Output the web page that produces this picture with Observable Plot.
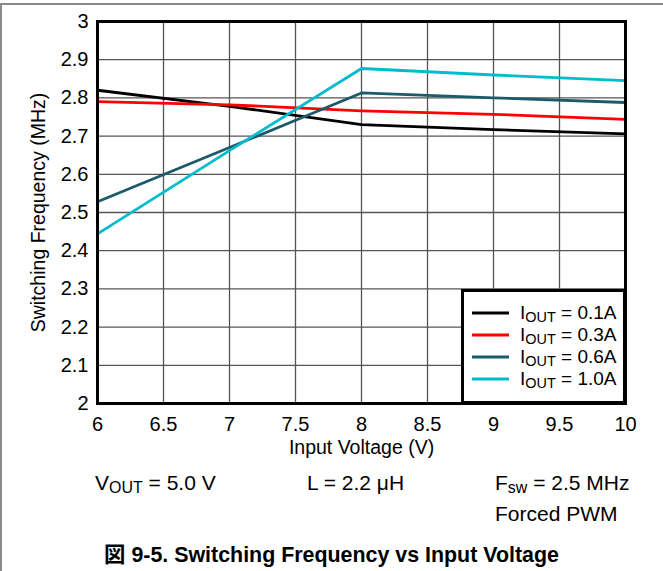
<!DOCTYPE html>
<html>
<head>
<meta charset="utf-8">
<script src="https://cdn.jsdelivr.net/npm/d3@7"></script>
<script src="https://cdn.jsdelivr.net/npm/@observablehq/plot@0.6"></script>
<style>
  body { margin: 0; background: #fff; }
  #wrap { position: relative; width: 663px; height: 571px; overflow: hidden; background: #fff;
          font-family: "Liberation Sans", Arial, "Noto Sans CJK JP", sans-serif; color: #000; }
  #border { position: absolute; left: 0; top: 3px; width: 663px; height: 580px;
            border-top: 2px solid #8a8a8a; border-left: 2px solid #8a8a8a; box-sizing: border-box; }
  #chart { position: absolute; left: 0; top: 0; }
  #legend { position: absolute; left: 461px; top: 289px; width: 165px; height: 115px;
            border: 3px solid #000; box-sizing: border-box; background: #fff; padding-top: 10px; }
  .row { height: 22px; display: flex; align-items: center; font-size: 19px; white-space: nowrap; }
  .row svg { margin-left: 8px; margin-right: 11px; }
  sub { font-size: 0.76em; vertical-align: -0.2em; line-height: 0; }
  .note { position: absolute; font-size: 21px; white-space: nowrap; line-height: 1; }
  #caption { position: absolute; left: 0; width: 663px; text-align: center; top: 545px; line-height: 1;
             font-weight: bold; font-size: 21.4px; white-space: nowrap; }
</style>
</head>
<body>
<div id="wrap">
  <div id="border"></div>
  <div id="chart"></div>
  <div id="legend"></div>
  <div class="note" style="left:95px; top:472px">V<sub>OUT</sub> = 5.0 V</div>
  <div class="note" style="left:307px; top:472px">L = 2.2 μH</div>
  <div class="note" style="left:495px; top:472px">F<sub>sw</sub> = 2.5 MHz</div>
  <div class="note" style="left:495px; top:503px">Forced PWM</div>
  <div id="caption">図 9-5. Switching Frequency vs Input Voltage</div>
</div>
<script>
// Data
const inputVoltage = [6, 7, 8, 9, 10];
const iout01 = [2.820, 2.778, 2.730, 2.717, 2.706];
const iout03 = [2.790, 2.782, 2.766, 2.757, 2.744];
const iout06 = [2.528, 2.670, 2.813, 2.800, 2.788];
const iout10 = [2.444, 2.662, 2.877, 2.860, 2.845];

const seriesNames = ["0.1A", "0.3A", "0.6A", "1.0A"];
const seriesColors = ["#000000", "#ff0000", "#1b5a6b", "#00bccc"];
const seriesValues = [iout01, iout03, iout06, iout10];

const xTicks = [6, 6.5, 7, 7.5, 8, 8.5, 9, 9.5, 10];
const yTicks = [2, 2.1, 2.2, 2.3, 2.4, 2.5, 2.6, 2.7, 2.8, 2.9, 3];

const rows = [];
seriesValues.forEach((vals, s) => {
  vals.forEach((v, i) => rows.push({x: inputVoltage[i], y: v, series: seriesNames[s]}));
});

const chart = Plot.plot({
  width: 663,
  height: 470,
  marginLeft: 97,
  marginRight: 38,
  marginTop: 21,
  marginBottom: 67,
  style: {fontFamily: "'Liberation Sans', Arial, sans-serif", fontSize: "20px", color: "#000", background: "transparent"},
  x: {domain: [6, 10], label: null},
  y: {domain: [2, 3], label: null},
  color: {domain: seriesNames, range: seriesColors},
  marks: [
    Plot.ruleX(xTicks, {stroke: "#555", strokeWidth: 1.3}),
    Plot.ruleY(yTicks, {stroke: "#555", strokeWidth: 1.3}),
    Plot.line(rows, {x: "x", y: "y", z: "series", stroke: "series", strokeWidth: 2.8}),
    Plot.frame({stroke: "#000", strokeWidth: 3}),
    Plot.axisX({ticks: xTicks, tickSize: 0, tickPadding: 13, fontSize: 20, label: null, tickFormat: d => String(d)}),
    Plot.axisX({ticks: [], tickSize: 0, fontSize: 19.5,
      label: "Input Voltage (V)", labelAnchor: "center", labelArrow: "none", labelOffset: 50}),
    Plot.axisY({ticks: yTicks, tickSize: 0, tickPadding: 9, fontSize: 20, label: null, tickFormat: d => String(+d.toFixed(1))}),
    Plot.axisY({ticks: [], tickSize: 0, fontSize: 19.5,
      label: "Switching Frequency (MHz)", labelAnchor: "center", labelArrow: "none", labelOffset: 66})
  ]
});
document.getElementById("chart").appendChild(chart);

// Legend
const legend = document.getElementById("legend");
seriesNames.forEach((name, i) => {
  const row = document.createElement("div");
  row.className = "row";
  row.innerHTML = `<svg width="37" height="6"><line x1="0" x2="37" y1="3" y2="3" stroke="${seriesColors[i]}" stroke-width="3"/></svg>` +
    `<span>I<sub>OUT</sub> = ${name}</span>`;
  legend.appendChild(row);
});
</script>
</body>
</html>
